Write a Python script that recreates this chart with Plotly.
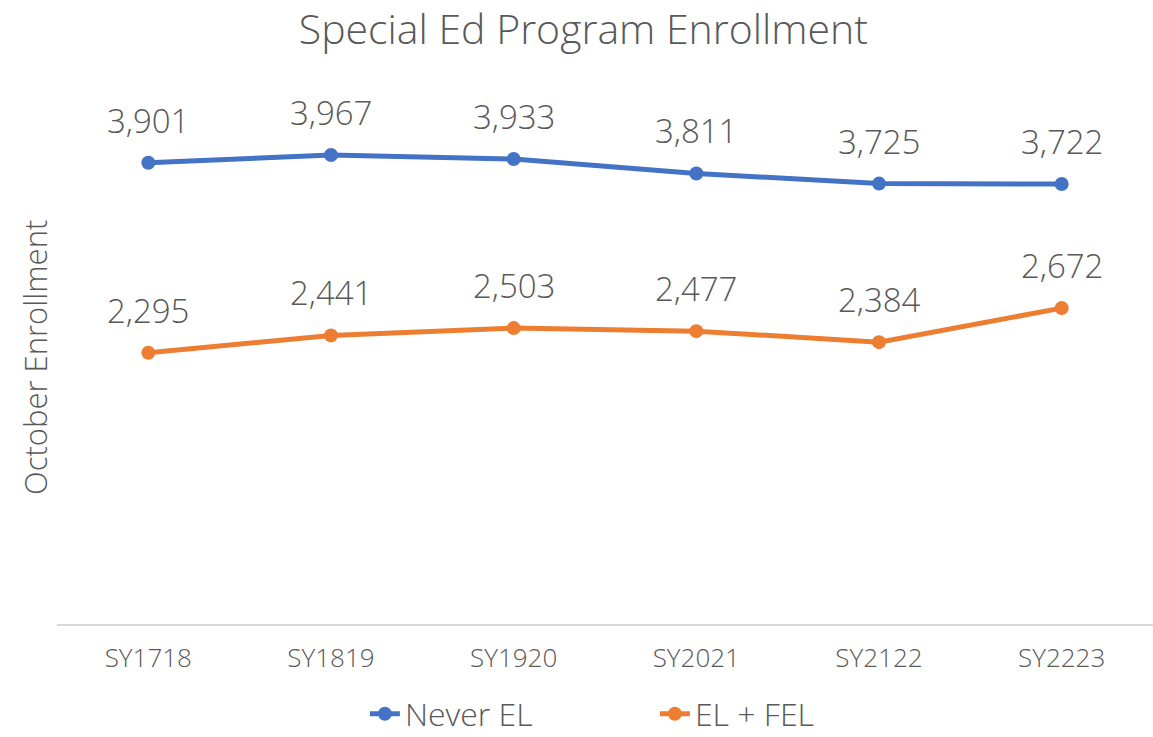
import plotly.graph_objects as go

categories = ["SY1718", "SY1819", "SY1920", "SY2021", "SY2122", "SY2223"]
never_el = [3901, 3967, 3933, 3811, 3725, 3722]
el_fel = [2295, 2441, 2503, 2477, 2384, 2672]

TEXT = "#595959"
FONT = "Open Sans"
W, H = 1153, 737
L, R, T, B = 57, 0, 92, 113

fig = go.Figure()
series = [("Never EL", never_el, "#4472C4"), ("EL + FEL", el_fel, "#ED7D31")]
annotations = []
for name, vals, color in series:
    fig.add_trace(go.Scatter(
        x=categories, y=vals, name=name, mode="lines+markers",
        line=dict(color=color, width=5), marker=dict(size=14, color=color),
        cliponaxis=False,
    ))
    for c, v in zip(categories, vals):
        annotations.append(dict(
            x=c, y=v, xref="x", yref="y", text=f"{v:,}", showarrow=False,
            xanchor="center", yanchor="bottom", yshift=18,
            font=dict(size=33, color=TEXT, family=FONT, weight=300),
        ))

annotations.append(dict(
    text="October Enrollment", textangle=-90, xref="paper", yref="paper",
    x=(35 - L) / (W - L - R), y=0.5, xanchor="center", yanchor="middle",
    showarrow=False, font=dict(size=31, color=TEXT, family=FONT, weight=300),
))

fig.update_layout(
    width=W, height=H,
    paper_bgcolor="white", plot_bgcolor="white",
    font=dict(family=FONT, color=TEXT),
    title=dict(text="Special Ed Program Enrollment", x=0.506, xanchor="center",
               y=1 - 30 / H, yanchor="middle",
               font=dict(size=41, color=TEXT, family=FONT, weight=300)),
    margin=dict(l=L, r=R, t=T, b=B),
    xaxis=dict(range=[-0.5, 5.5], showgrid=False, showline=True, linecolor="#D9D9D9",
               linewidth=2, ticks="", tickfont=dict(size=26, color=TEXT, weight=300),
               ticklabelstandoff=10),
    yaxis=dict(range=[0, 4500], showgrid=False, showticklabels=False, zeroline=False,
               showline=False),
    showlegend=True,
    legend=dict(orientation="h", xref="container", x=0.568, xanchor="center",
                yref="container", y=23 / H, yanchor="middle", entrywidth=245,
                font=dict(size=32, color=TEXT, weight=300)),
    annotations=annotations,
)

fig.write_html("out.html", post_script="document.body.style.margin='0';",
               config={"displayModeBar": False})
